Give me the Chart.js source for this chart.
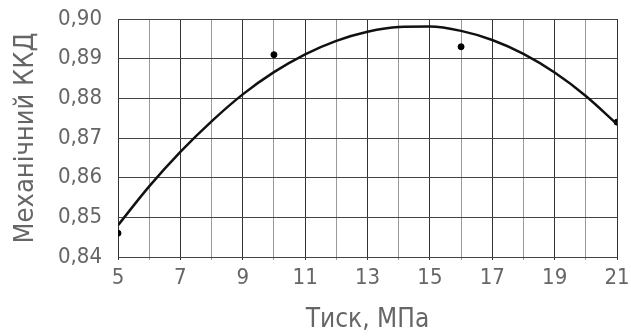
<!DOCTYPE html>
<html>
<head>
<meta charset="utf-8">
<script src="https://cdn.jsdelivr.net/npm/chart.js@4/dist/chart.umd.min.js"></script>
<style>
  html, body { margin: 0; padding: 0; background: #fff; }
  #wrap { width: 631px; height: 336px; }
</style>
</head>
<body>
<div id="wrap"><canvas id="myChart" width="631" height="336"></canvas></div>
<script>
// fitted curve, read at every 1 MPa
const pressure = [5, 6, 7, 8, 9, 10, 11, 12, 13, 14, 15, 16, 17, 18, 19, 20, 21];
const efficiencyCurve = [0.848, 0.8578, 0.8665, 0.8742, 0.881, 0.8866, 0.8911, 0.8945, 0.8968, 0.898, 0.8981, 0.897, 0.8947, 0.8912, 0.8865, 0.8806, 0.8735];

// measured points
const measuredPressure = [5, 10, 16, 21];
const measuredEfficiency = [0.846, 0.891, 0.893, 0.874];

const fontName = "'DejaVu Sans Condensed', 'DejaVu Sans', sans-serif";
const textColor = "#666";

function toPoints(xs, ys) {
  return xs.map((x, i) => ({ x: x, y: ys[i] }));
}

function creatChart() {
  const data = {
    datasets: [
      {
        label: "curve",
        type: "line",
        data: toPoints(pressure, efficiencyCurve),
        borderColor: "#111",
        borderWidth: 2.5,
        pointRadius: 0,
        cubicInterpolationMode: "monotone",
        fill: false,
      },
      {
        label: "measured",
        type: "scatter",
        data: toPoints(measuredPressure, measuredEfficiency),
        backgroundColor: "#000",
        borderColor: "#000",
        pointRadius: 3,
      },
    ],
  };

  const config = {
    type: "scatter",
    data: data,
    options: {
      responsive: false,
      animation: false,
      layout: { padding: 0 },
      plugins: { legend: { display: false }, tooltip: { enabled: false } },
      scales: {
        x: {
          type: "linear",
          min: 5,
          max: 21,
          afterFit: (scale) => {
            scale.height = 79;
            scale.paddingLeft = 0;
            scale.paddingRight = 14;
          },
          grid: {
            drawTicks: true,
            tickLength: 3,
            color: (ctx) => (ctx.tick && ctx.tick.value % 2 === 1 ? "#333" : "#999"),
            lineWidth: 1,
          },
          border: { display: false },
          ticks: {
            stepSize: 1,
            autoSkip: false,
            maxRotation: 0,
            color: textColor,
            font: { family: fontName, size: 22 },
            padding: 5,
            callback: (v) => (v % 2 === 1 ? String(v) : ""),
          },
          title: {
            display: true,
            text: "Тиск, МПа",
            color: textColor,
            font: { family: fontName, size: 26 },
            padding: { top: 6, bottom: 0 },
          },
        },
        y: {
          min: 0.84,
          max: 0.9,
          afterFit: (scale) => {
            scale.width = 118;
            scale.paddingTop = 19;
            scale.paddingBottom = 0;
          },
          grid: { drawTicks: false, color: "#444", lineWidth: 1 },
          border: { display: false },
          ticks: {
            stepSize: 0.01,
            color: textColor,
            font: { family: fontName, size: 22 },
            padding: 16,
            callback: (v) => v.toFixed(2).replace(".", ","),
          },
          title: {
            display: true,
            text: "Механічний ККД",
            color: textColor,
            font: { family: fontName, size: 27 },
            padding: { top: 10, bottom: 4 },
          },
        },
      },
    },
  };

  const myChart = new Chart(document.getElementById("myChart"), config);
}

creatChart();
</script>
</body>
</html>
